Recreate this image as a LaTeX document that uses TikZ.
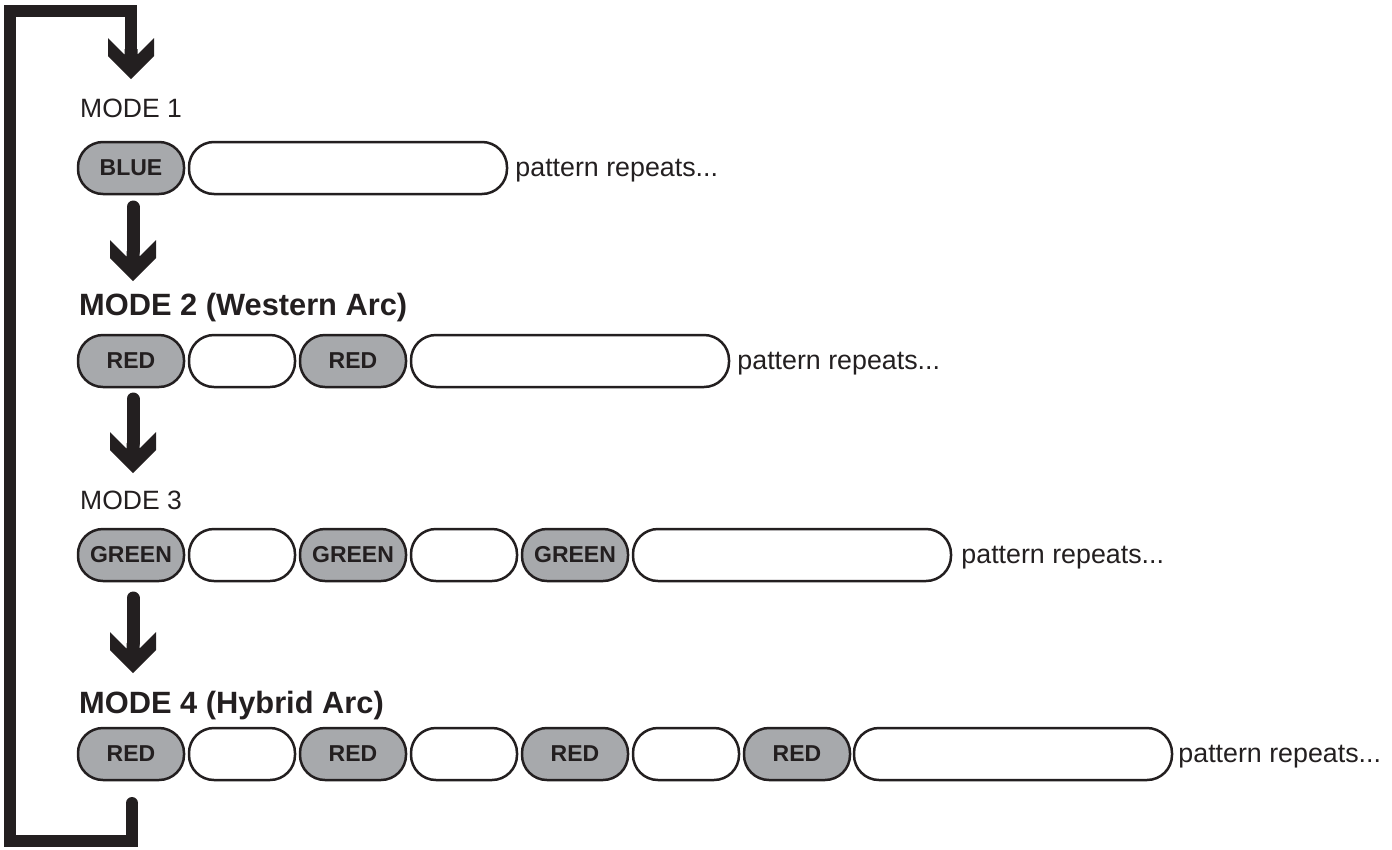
\documentclass[tikz,border=0pt]{standalone}
\usepackage{fontspec}
\setmainfont{Liberation Sans}
\definecolor{ink}{HTML}{231F20}
\definecolor{pillgray}{HTML}{A7A9AC}
\begin{document}
\begin{tikzpicture}[x=1pt,y=-1pt,
  pill/.style={draw=ink, line width=2.5pt, rounded corners=25pt, minimum height=52pt, inner sep=0pt, text=ink,
    font=\fontsize{23}{26}\selectfont\bfseries},
  gpill/.style={pill, fill=pillgray, minimum width=106pt},
  wpill/.style={pill, fill=white, minimum width=106pt},
  bigpill/.style={pill, fill=white, minimum width=318pt},
  modelab/.style={anchor=base west, inner sep=0pt, text=ink, font=\fontsize{26.5}{30}\selectfont},
  modebold/.style={anchor=base west, inner sep=0pt, text=ink, font=\fontsize{30.8}{34}\selectfont\bfseries},
  rep/.style={anchor=base west, inner sep=0pt, text=ink, font=\fontsize{26.8}{30}\selectfont},
  shaft/.style={draw=ink, line width=13pt, line cap=round},
  loopline/.style={draw=ink, line width=12pt, line join=miter},
  chev/.pic={\fill[ink] (0,0) -- (-23,-23) -- (-23,-41) -- (-6.5,-24.5) -- (-6.5,-30) -- (6.5,-30) -- (6.5,-24.5) -- (23,-41) -- (23,-23) -- cycle;}
]
\useasboundingbox (0,0) rectangle (1392,849);

% loop
\coordinate (lp0) at (132,803);
\coordinate (lp1) at (132,841);
\coordinate (lp2) at (10,841);
\coordinate (lp3) at (10,11);
\coordinate (lp4) at (131,11);
\coordinate (a1e) at (131,79);
\draw[loopline] (lp0) -- (lp1) -- (lp2) -- (lp3) -- (lp4) -- ([yshift=29pt]a1e);
\fill[ink] (lp0) circle (6pt);
\pic at (a1e) {chev};

% labels
\node[modelab] (m1) at (80,117) {MODE 1};
\node[modebold] (m2) at (79,315) {MODE 2 (Western Arc)};
\node[modelab] (m3) at (80,509) {MODE 3};
\node[modebold] (m4) at (79,713) {MODE 4 (Hybrid Arc)};

% row 1
\node[gpill] (r1a) at (131,168) {BLUE};
\node[bigpill] (r1W) at (348,168) {};
\node[rep] (r1t) at ([xshift=7pt,yshift=-8pt]r1W.east) {pattern repeats...};

% row 2
\node[gpill] (r2a) at (131,361) {RED};
\node[wpill] (r2b) at (242,361) {};
\node[gpill] (r2c) at (353,361) {RED};
\node[bigpill] (r2W) at (570,361) {};
\node[rep] (r2t) at ([xshift=7pt,yshift=-8pt]r2W.east) {pattern repeats...};

% row 3
\node[gpill] (r3a) at (131,555) {GREEN};
\node[wpill] (r3b) at (242,555) {};
\node[gpill] (r3c) at (353,555) {GREEN};
\node[wpill] (r3d) at (464,555) {};
\node[gpill] (r3e) at (575,555) {GREEN};
\node[bigpill] (r3W) at (792,555) {};
\node[rep] (r3t) at ([xshift=9pt,yshift=-8pt]r3W.east) {pattern repeats...};

% row 4
\node[gpill] (r4a) at (131,754) {RED};
\node[wpill] (r4b) at (242,754) {};
\node[gpill] (r4c) at (353,754) {RED};
\node[wpill] (r4d) at (464,754) {};
\node[gpill] (r4e) at (575,754) {RED};
\node[wpill] (r4f) at (686,754) {};
\node[gpill] (r4g) at (797,754) {RED};
\node[bigpill] (r4W) at (1013,754) {};
\node[rep] (r4t) at ([xshift=5pt,yshift=-8pt]r4W.east) {pattern repeats...};

% arrows between modes
\coordinate (a2s) at (133,207); \coordinate (a2e) at (133,281);
\coordinate (a3s) at (133,399); \coordinate (a3e) at (133,473);
\coordinate (a4s) at (133,598); \coordinate (a4e) at (133,673);
\foreach \s/\e in {a2s/a2e,a3s/a3e,a4s/a4e}{
  \draw[shaft] (\s) -- ([yshift=30pt]\e);
  \pic at (\e) {chev};
}
\end{tikzpicture}
\end{document}
